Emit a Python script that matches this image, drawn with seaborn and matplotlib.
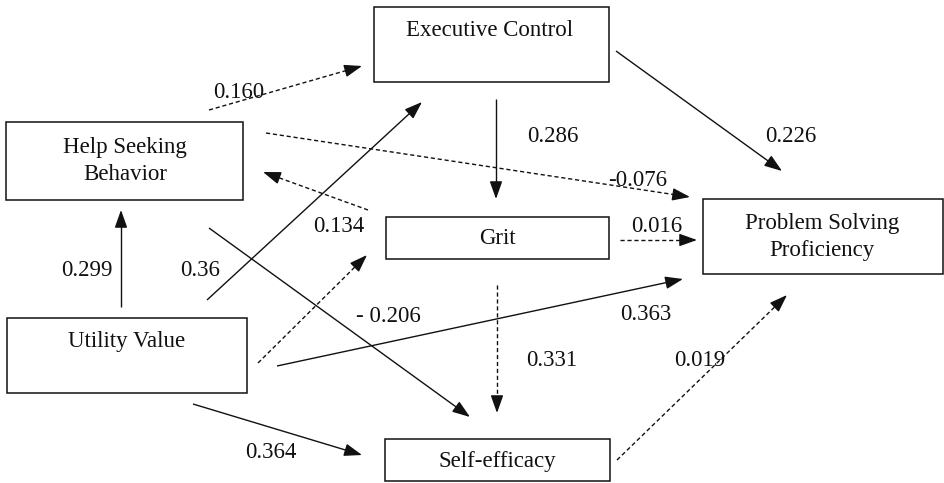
import numpy as np
import seaborn as sns
import matplotlib.pyplot as plt
from matplotlib.patches import Rectangle

# path model: constructs, paths and standardised coefficients
nodes = ["Executive Control", "Help Seeking\nBehavior", "Grit",
         "Problem Solving\nProficiency", "Utility Value", "Self-efficacy"]

path_from = ["Help Seeking\nBehavior", "Utility Value", "Help Seeking\nBehavior", "Grit",
             "Executive Control", "Executive Control", "Grit", "Utility Value",
             "Help Seeking\nBehavior", "Utility Value", "Utility Value", "Grit",
             "Utility Value", "Self-efficacy"]
path_to = ["Executive Control", "Executive Control", "Problem Solving\nProficiency",
           "Help Seeking\nBehavior", "Grit", "Problem Solving\nProficiency",
           "Problem Solving\nProficiency", "Help Seeking\nBehavior", "Self-efficacy",
           "Grit", "Problem Solving\nProficiency", "Self-efficacy", "Self-efficacy",
           "Problem Solving\nProficiency"]
coef_labels = ["0.160", "0.36", "-0.076", "0.134", "0.286", "0.226", "0.016", "0.299",
               "- 0.206", "", "0.363", "0.331", "0.364", "0.019"]
significant = [False, True, False, False, True, True, False, True,
               True, False, True, False, True, False]

# layout (pixel space of the 945x483 canvas)
box_xywh = {
    "Executive Control": (374, 7, 235, 75),
    "Help Seeking\nBehavior": (6, 122, 237, 78),
    "Grit": (386, 217, 223, 42),
    "Problem Solving\nProficiency": (703, 199, 240, 75),
    "Utility Value": (7, 318, 240, 75),
    "Self-efficacy": (385, 439, 225, 42),
}
text_xy = {
    "Executive Control": (490, 30),
    "Help Seeking\nBehavior": (125, 161),
    "Grit": (497, 239),
    "Problem Solving\nProficiency": (822, 237),
    "Utility Value": (127, 341),
    "Self-efficacy": (497, 461),
}
arrow_start = [(209, 110), (207, 300), (266, 133), (368, 210), (496, 99), (616, 51),
               (620, 240), (121, 307), (209, 228), (258, 363), (277, 366), (497, 285),
               (193, 404), (617, 460)]
arrow_end = [(362, 66), (422, 102), (690, 197), (263, 172), (496, 199), (782, 171),
             (697, 240), (121, 210), (470, 417), (367, 255), (683, 279), (497, 413),
             (362, 455), (787, 295)]
label_xy = [(239, 92), (200, 270), (638, 181), (339, 227), (553, 137), (791, 137),
            (657, 226), (87, 270), (388, 316), (0, 0), (646, 315), (552, 361),
            (271, 452), (700, 361)]

sns.set_theme(style="white")
plt.rcParams['font.family'] = ['Liberation Serif', 'DejaVu Serif']

fig = plt.figure(figsize=(9.45, 4.83), dpi=100)
ax = fig.add_axes([0, 0, 1, 1])
ax.set_xlim(0, 945)
ax.set_ylim(483, 0)
ax.axis("off")

ink = "#111111"
fs = 16.5

for name in nodes:
    x, y, w, h = box_xywh[name]
    ax.add_patch(Rectangle((x, y), w, h, fill=False, edgecolor=ink, lw=1.1))
    tx, ty = text_xy[name]
    ax.text(tx, ty, name, ha="center", va="center", fontsize=fs,
            color=ink, linespacing=1.35)

for i in range(len(path_from)):
    p0 = np.array(arrow_start[i], dtype=float)
    p1 = np.array(arrow_end[i], dtype=float)
    d = (p1 - p0) / np.linalg.norm(p1 - p0)
    neck = p1 - d * 12
    ls = "-" if significant[i] else (0, (3, 2))
    ax.plot([p0[0], neck[0]], [p0[1], neck[1]], color=ink, lw=1.0, ls=ls,
            solid_capstyle="butt")
    ax.annotate("", xy=tuple(p1), xytext=tuple(neck),
                arrowprops=dict(arrowstyle="-|>,head_length=0.9,head_width=0.32",
                                lw=1.0, color=ink, shrinkA=0, shrinkB=0,
                                mutation_scale=12))
    if coef_labels[i]:
        ax.text(label_xy[i][0], label_xy[i][1], coef_labels[i], ha="center",
                va="center", fontsize=fs, color=ink)

sns.despine(ax=ax, left=True, bottom=True)
fig.savefig("out.png", dpi=100, facecolor="white")
